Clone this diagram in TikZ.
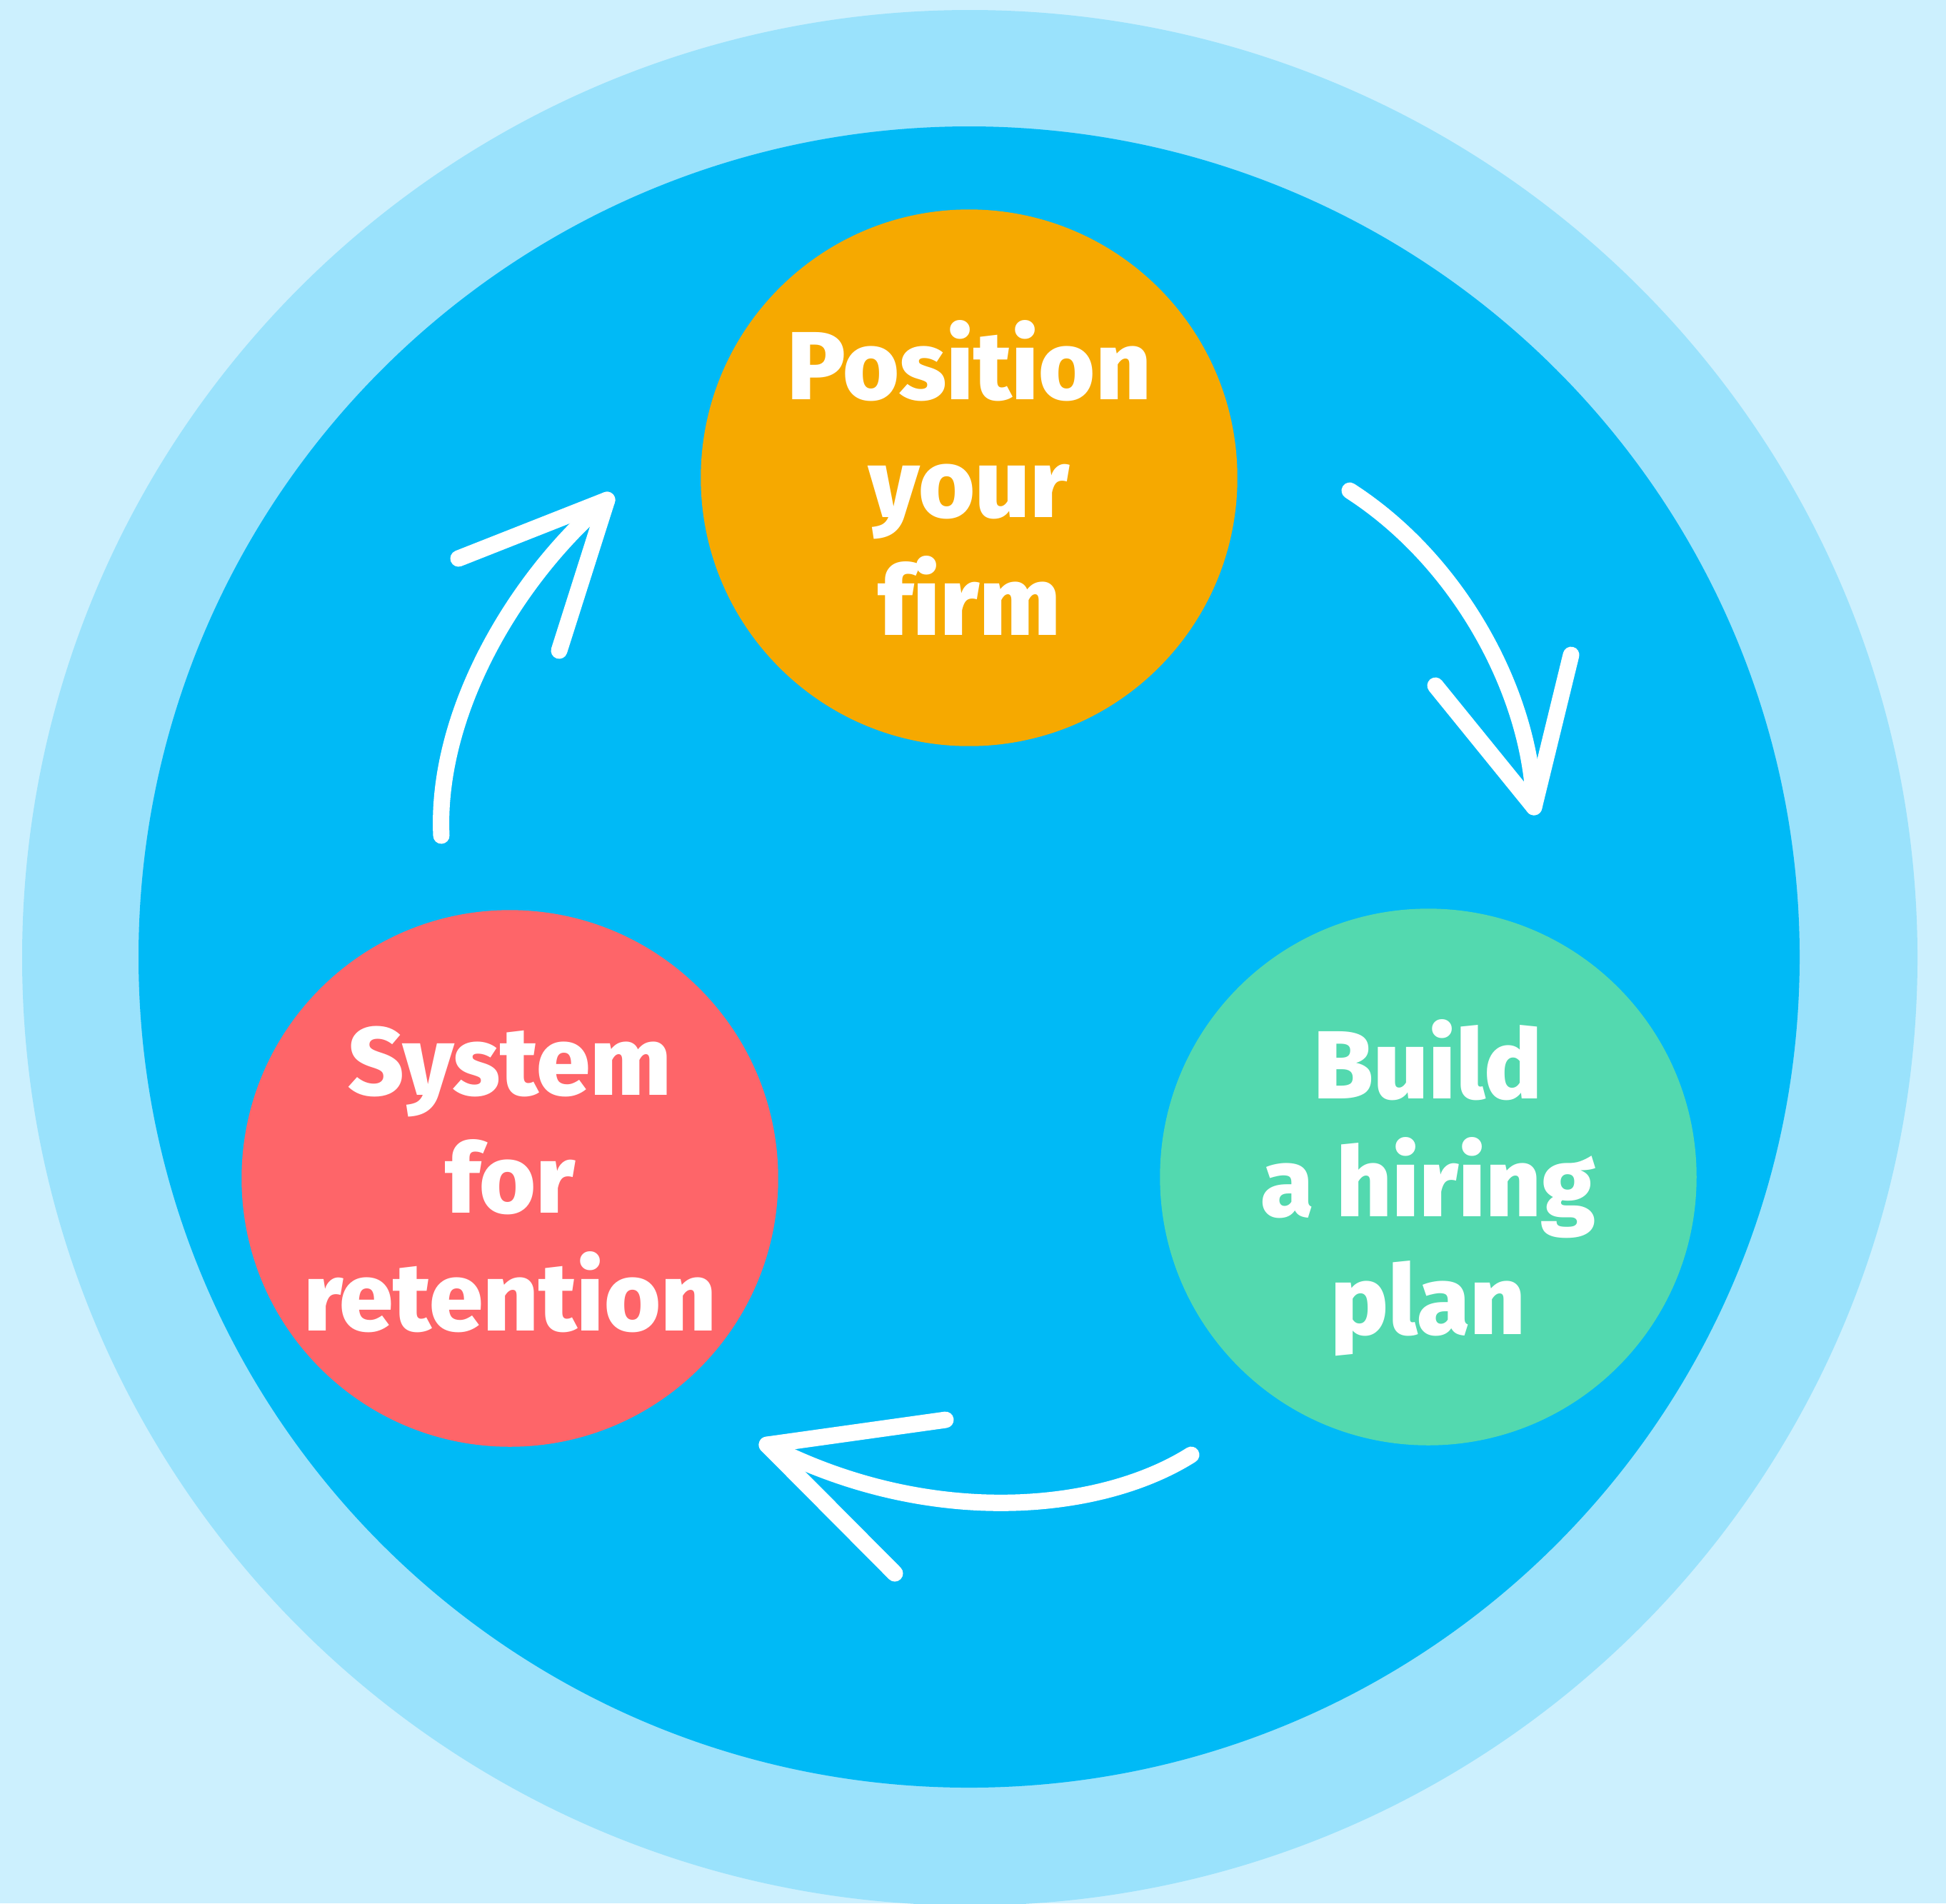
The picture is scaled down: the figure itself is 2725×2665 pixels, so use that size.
\documentclass[tikz,border=0pt]{standalone}
\usepackage{fontspec}
\setmainfont{Fira Sans}[BoldFont={Fira Sans ExtraBold},Ligatures=NoCommon]
\usepackage{tikz}
\usetikzlibrary{positioning}
\definecolor{paleblue}{HTML}{CCF0FE}
\definecolor{ringblue}{HTML}{9AE2FC}
\definecolor{deepblue}{HTML}{00BAF6}
\definecolor{firmorange}{HTML}{F6A900}
\definecolor{hiregreen}{HTML}{53D9AF}
\definecolor{retainred}{HTML}{FE6569}

\begin{document}
\begin{tikzpicture}[
  x=0.01cm,y=-0.01cm,
  stage/.style={circle,minimum size=7.51cm,inner sep=0pt,text=white,align=center,
    text depth=-0.14cm,font=\bfseries\fontsize{38.5}{47}\selectfont},
  arr/.style={white,line width=0.23cm,line cap=round,line join=round}
]
\clip (0,0) rectangle (2725,2665);
\fill[paleblue] (0,0) rectangle (2725,2665);
\fill[ringblue] (1358,1341) circle[radius=1327];
\fill[deepblue] (1357,1340) circle[radius=1163];

\node[stage,fill=firmorange] (firm) at (1357,669) {Position\\your\\firm};
\node[stage,fill=hiregreen] (hire) at (2000,1648) {Build\\a hiring\\plan};
\node[stage,fill=retainred] (retain) at (714,1650) {System\\for\\retention};

\coordinate (fh0) at (1890,687);
\coordinate (fh1) at (2148,1130);
\coordinate (fha) at (2010,960);
\coordinate (fhb) at (2200,917);
\draw[arr] (fh0) .. controls (2050,790) and (2145,980) .. (fh1);
\draw[arr] (fha) -- (fh1) -- (fhb);

\coordinate (hr0) at (1668,2037);
\coordinate (hr1) at (1074,2023);
\coordinate (hra) at (1324,1988);
\coordinate (hrb) at (1253,2203);
\draw[arr] (hr0) .. controls (1540,2118) and (1300,2140) .. (hr1);
\draw[arr] (hra) -- (hr1) -- (hrb);

\coordinate (rf0) at (618,1170);
\coordinate (rf1) at (850,700);
\coordinate (rfa) at (642,782);
\coordinate (rfb) at (783,911);
\draw[arr] (rf0) .. controls (610,1000) and (720,810) .. (rf1);
\draw[arr] (rfa) -- (rf1) -- (rfb);
\end{tikzpicture}
\end{document}
